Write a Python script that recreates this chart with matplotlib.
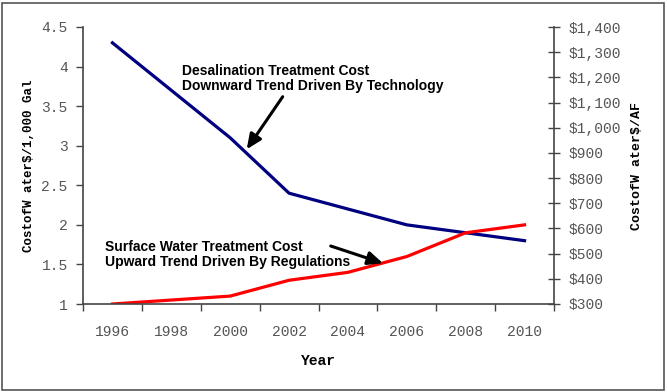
import matplotlib
matplotlib.use("Agg")
import matplotlib.pyplot as plt
from matplotlib.patches import Rectangle
from matplotlib.ticker import FixedLocator, FuncFormatter

years = ["1996", "1998", "2000", "2002", "2004", "2006", "2008", "2010"]
desal_cost = [4.3, 3.7, 3.1, 2.4, 2.2, 2.0, 1.9, 1.8]
surface_cost = [1.0, 1.05, 1.1, 1.3, 1.4, 1.6, 1.9, 2.0]
left_ticks = [1, 1.5, 2, 2.5, 3, 3.5, 4, 4.5]
left_labels = ["1", "1.5", "2", "2.5", "3", "3.5", "4", "4.5"]
right_ticks = [300, 400, 500, 600, 700, 800, 900, 1000, 1100, 1200, 1300, 1400]

fig = plt.figure(figsize=(6.67, 3.92), dpi=100)
ax = fig.add_axes([83/667, 1-304/392, (554-83)/667, (304-27)/392])

x = list(range(len(years)))
ax.plot(x, desal_cost, color="#000080", lw=2.3, solid_joinstyle="round")
ax.plot(x, surface_cost, color="#FF0000", lw=2.3, solid_joinstyle="round")

ax.set_xlim(-0.5, len(years) - 0.5)
ax.set_ylim(1, 4.5)

mono = "Liberation Mono"
tick_color = "#555555"
ax.set_xticks(x)
ax.set_xticklabels(years, family=mono, fontsize=10.5, color=tick_color)
ax.xaxis.set_minor_locator(FixedLocator([i - 0.5 for i in range(len(years) + 1)]))
ax.tick_params(axis="x", which="major", length=0, pad=15)
ax.tick_params(axis="x", which="minor", length=5, width=1, color="#444444", direction="out")

ax.set_yticks(left_ticks)
ax.set_yticklabels(left_labels, family=mono, fontsize=10.5, color=tick_color)
ax.tick_params(axis="y", length=5, width=1, color="#444444", direction="out", pad=6)

for s in ["top", "right"]:
    ax.spines[s].set_visible(False)
for s in ["left", "bottom"]:
    ax.spines[s].set_color("#444444")
    ax.spines[s].set_linewidth(1.2)

ax.set_xlabel("Year", family=mono, fontweight="bold", fontsize=10.5, labelpad=11)
ax.set_ylabel("CostofW ater$/1,000 Gal", family=mono, fontweight="bold", fontsize=9, labelpad=5)

ax2 = ax.twinx()
ax2.set_ylim(300, 1400)
ax2.set_yticks(right_ticks)
ax2.yaxis.set_major_formatter(FuncFormatter(lambda v, p: "${:,.0f}".format(v)))
ax2.tick_params(axis="y", length=9, width=1, color="#444444", direction="inout", pad=6,
                labelsize=10.5, labelcolor=tick_color)
for lab in ax2.get_yticklabels():
    lab.set_family(mono)
for s in ["top", "left", "bottom"]:
    ax2.spines[s].set_visible(False)
ax2.spines["right"].set_color("#444444")
ax2.spines["right"].set_linewidth(1.2)
ax2.set_ylabel("CostofW ater$/AF", family=mono, fontweight="bold", fontsize=9.5, labelpad=7)

ann_font = dict(family="Liberation Sans", fontweight="bold", fontsize=10, color="black")
arrow = dict(arrowstyle="-|>,head_length=0.9,head_width=0.4", color="black", lw=2.2,
             shrinkA=0, shrinkB=0)
ax.annotate("Desalination Treatment Cost\nDownward Trend Driven By Technology",
            xy=(182, 392 - 64), xycoords="figure pixels",
            ha="left", va="top", linespacing=1.05, **ann_font)
ax.annotate("", xy=(246.7, 392 - 149.3), xycoords="figure pixels",
            xytext=(282.7, 392 - 96.7), textcoords="figure pixels", arrowprops=arrow)
ax.annotate("Surface Water Treatment Cost\nUpward Trend Driven By Regulations",
            xy=(105, 392 - 240), xycoords="figure pixels",
            ha="left", va="top", linespacing=1.05, **ann_font)
ax.annotate("", xy=(383, 392 - 263.3), xycoords="figure pixels",
            xytext=(330.7, 392 - 246), textcoords="figure pixels", arrowprops=arrow)

fig.patches.append(Rectangle((2/667, 2/392), 662/667, 387/392, transform=fig.transFigure,
                             fill=False, edgecolor="#555555", lw=1.2))

fig.savefig("out.png", dpi=100)
